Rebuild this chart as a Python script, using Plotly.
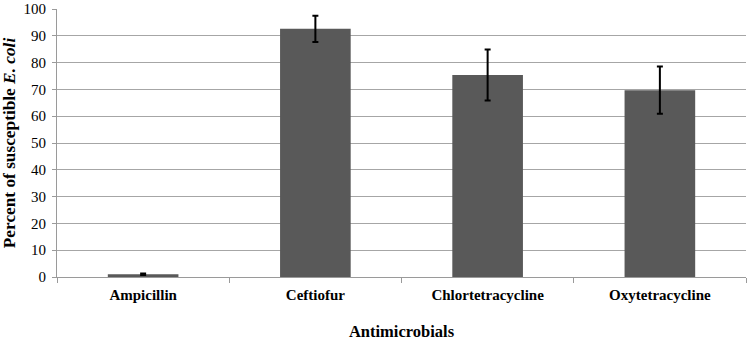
import plotly.graph_objects as go

categories = ["Ampicillin", "Ceftiofur", "Chlortetracycline", "Oxytetracycline"]
values = [1.0, 92.6, 75.4, 69.7]
errors = [0.3, 4.9, 9.5, 8.8]
y_ticks = list(range(0, 101, 10))

fig = go.Figure(go.Bar(
    x=categories, y=values,
    marker=dict(color="#595959", line=dict(width=0)),
    error_y=dict(type="data", array=errors, color="black", thickness=2, width=3),
))

font = "Liberation Serif"
fig.update_layout(
    width=751, height=341,
    margin=dict(l=57, r=5, t=9, b=64),
    paper_bgcolor="white", plot_bgcolor="white",
    bargap=0.59,
    showlegend=False,
    font=dict(family=font, size=15, color="black"),
)
fig.update_xaxes(
    title=dict(text="<b>Antimicrobials</b>", font=dict(family=font, size=16.5), standoff=26),
    tickfont=dict(family=font, size=15),
    tickprefix="<b>", ticksuffix="</b>",
    ticklabelstandoff=4,
    showline=True, linecolor="#9a9a9a", linewidth=1,
    ticks="outside", ticklen=5, tickcolor="#9a9a9a",
    tickson="boundaries",
    showgrid=False,
    automargin=False,
)
fig.update_yaxes(
    title=dict(text="<b>Percent of susceptible <i>E. coli</i></b>", font=dict(family=font, size=17.3), standoff=8),
    range=[0, 100], tickvals=y_ticks,
    tickfont=dict(family=font, size=15),
    ticklabelstandoff=3,
    showline=True, linecolor="#9a9a9a", linewidth=1,
    ticks="outside", ticklen=4, tickcolor="#9a9a9a",
    showgrid=True, gridcolor="#a6a6a6", gridwidth=1,
    zeroline=False,
    automargin=False,
)
fig.write_html(
    "out.html",
    config={"displayModeBar": False},
    post_script="document.body.style.margin='0';document.body.style.overflow='hidden';",
)
